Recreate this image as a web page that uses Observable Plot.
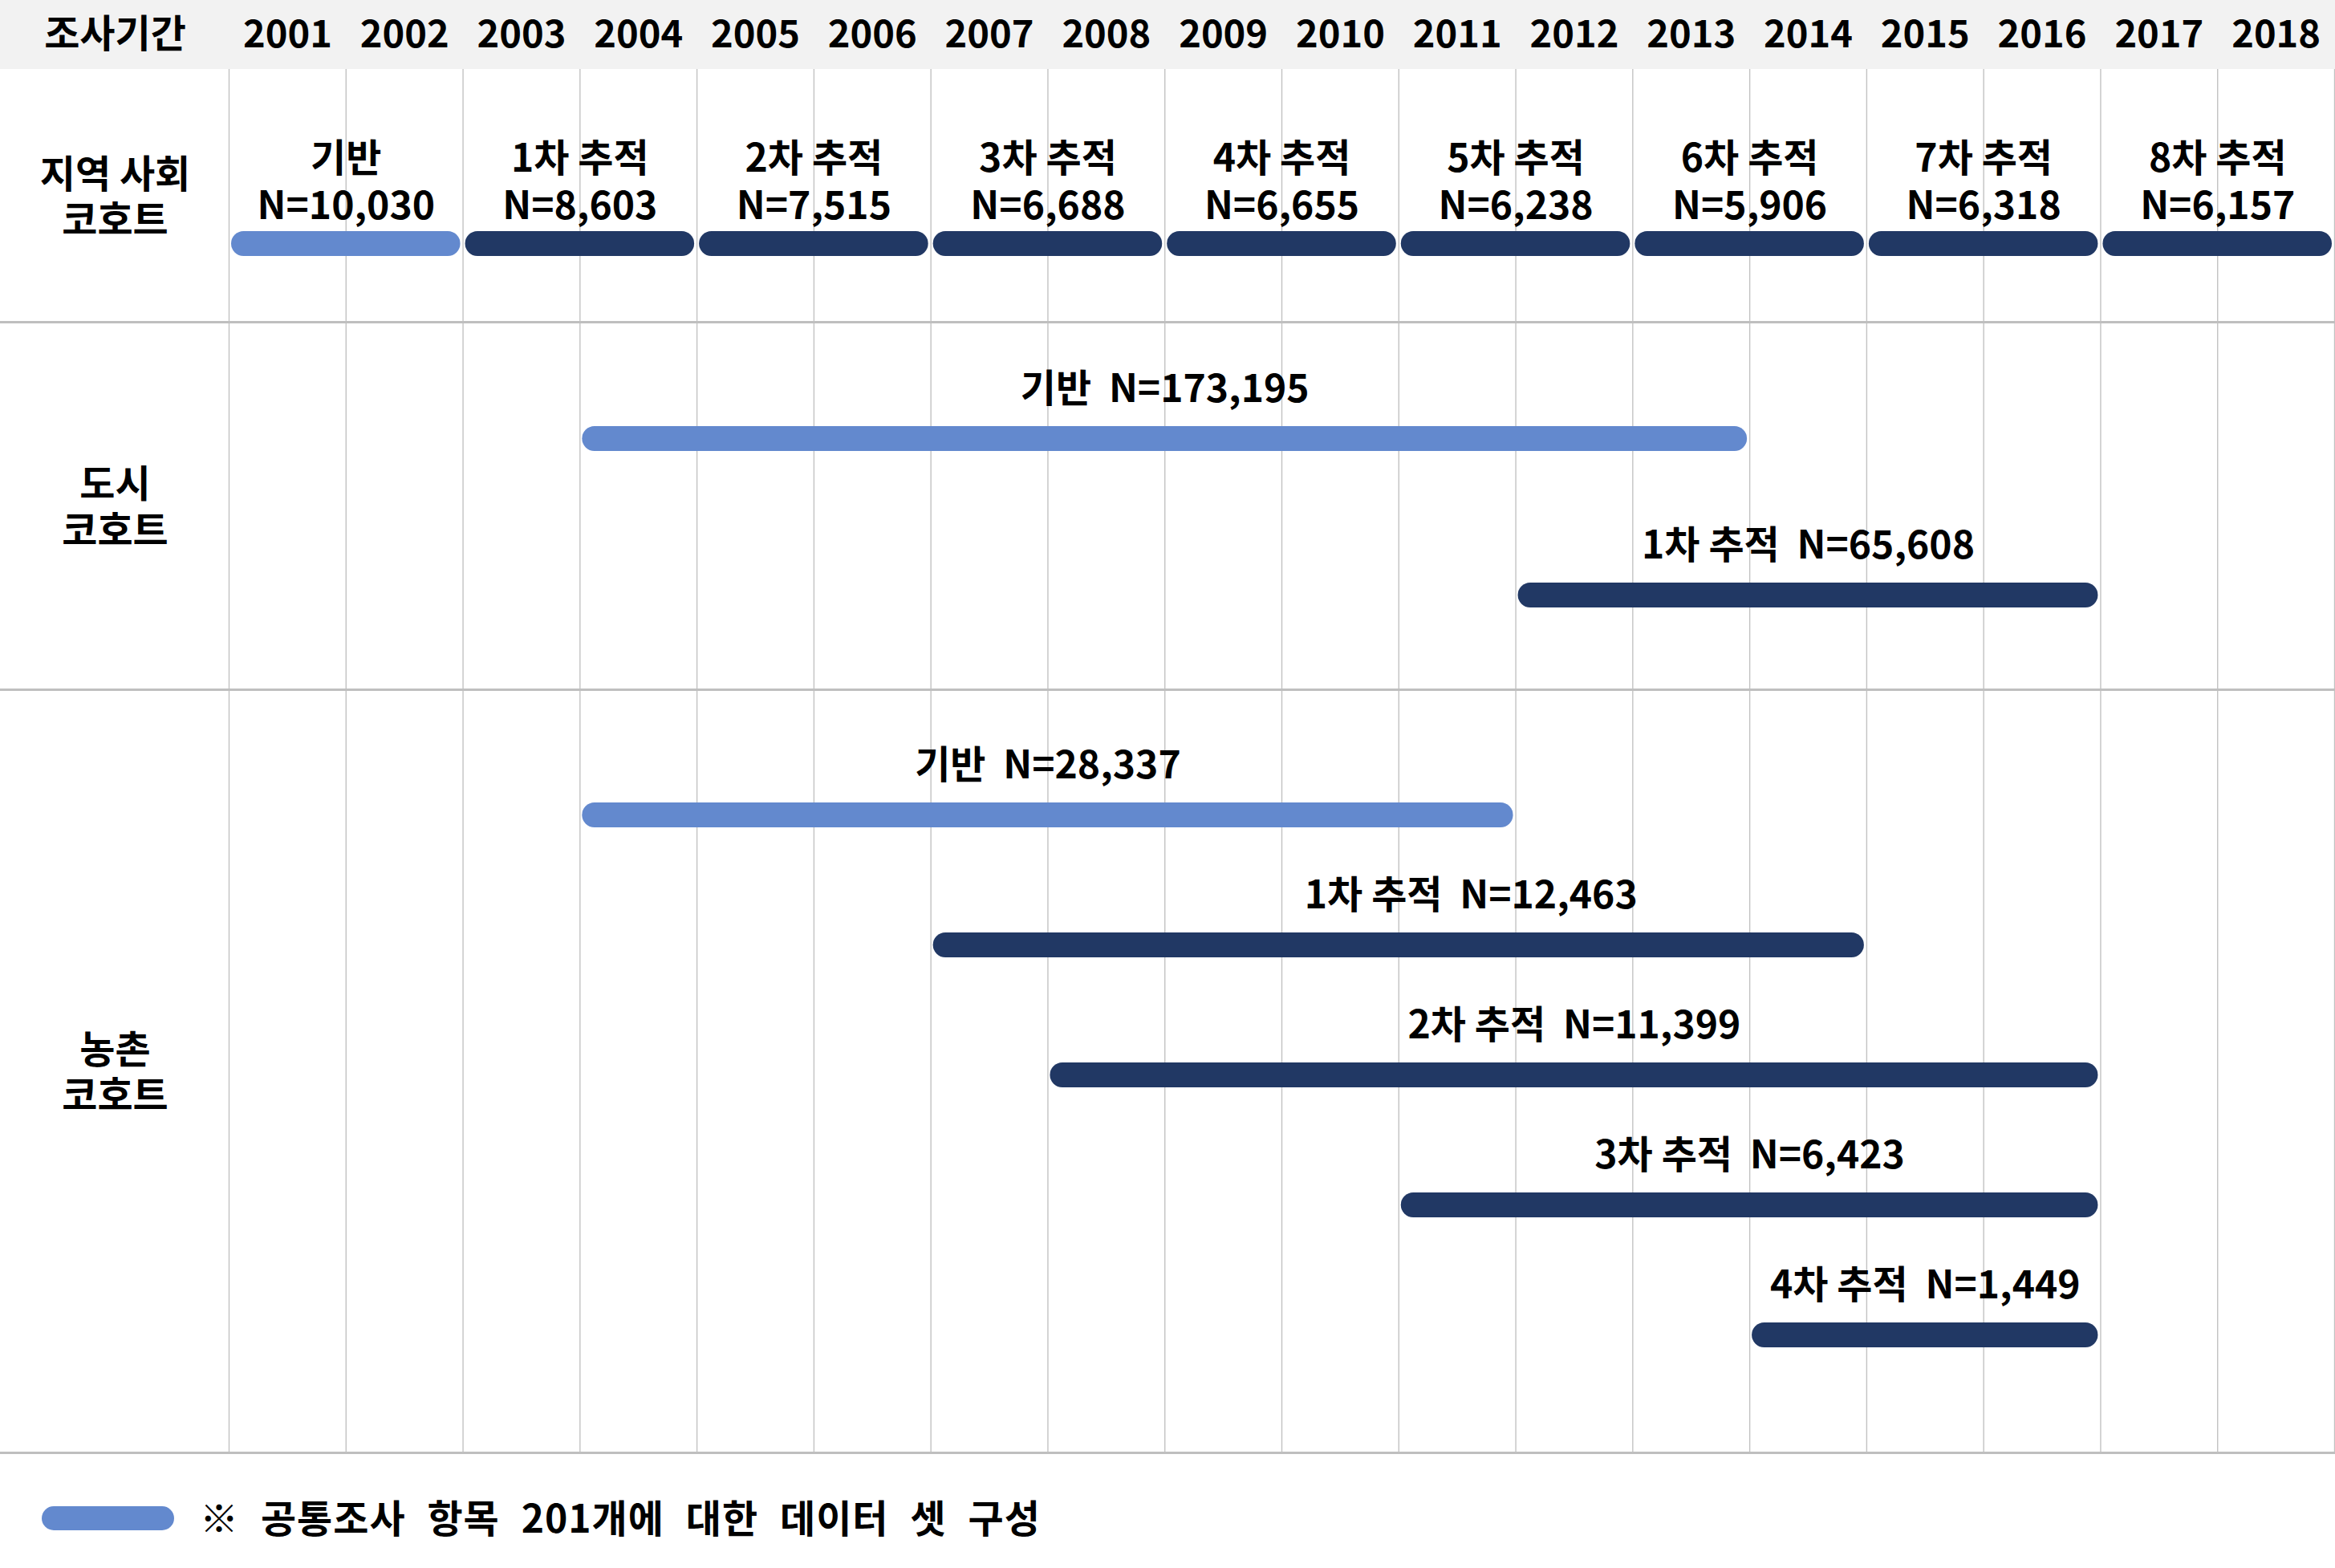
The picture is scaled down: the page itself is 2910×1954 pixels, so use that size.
<!DOCTYPE html>
<html>
<head>
<meta charset="utf-8">
<script src="https://cdn.jsdelivr.net/npm/d3@7"></script>
<script src="https://cdn.jsdelivr.net/npm/@observablehq/plot@0.6"></script>
<style>
html, body { margin: 0; padding: 0; background: #fff; }
body { width: 2910px; font-family: 'Noto Sans CJK KR', sans-serif; font-weight: 700; color: #000; }
#chart svg { display: block; }
#legend { height: 142px; position: relative; }
#legend .swatch { position: absolute; left: 52px; top: 65px; width: 165px; height: 30px; border-radius: 15px; }
#legend .label { position: absolute; left: 249px; top: 77px; transform: translateY(-50%); font-size: 48px; line-height: 1; white-space: pre; word-spacing: 15px; letter-spacing: 1px; }
</style>
</head>
<body>
<div id="chart"></div>
<div id="legend"><span class="swatch"></span><span class="label"></span></div>
<script>
// ---------- data ----------
const headerLabel = "조사기간";
const years = [2001, 2002, 2003, 2004, 2005, 2006, 2007, 2008, 2009, 2010, 2011, 2012, 2013, 2014, 2015, 2016, 2017, 2018];
const cohortLabels = ["지역 사회\n코호트", "도시\n코호트", "농촌\n코호트"];

// one entry per bar
const barCohort = [0, 0, 0, 0, 0, 0, 0, 0, 0, 1, 1, 2, 2, 2, 2, 2];
const barLane   = [0, 0, 0, 0, 0, 0, 0, 0, 0, 0, 1, 0, 1, 2, 3, 4];
const barWave   = ["기반", "1차 추적", "2차 추적", "3차 추적", "4차 추적", "5차 추적", "6차 추적", "7차 추적", "8차 추적",
                   "기반", "1차 추적",
                   "기반", "1차 추적", "2차 추적", "3차 추적", "4차 추적"];
const barN      = [10030, 8603, 7515, 6688, 6655, 6238, 5906, 6318, 6157,
                   173195, 65608,
                   28337, 12463, 11399, 6423, 1449];
const barStart  = [2001, 2003, 2005, 2007, 2009, 2011, 2013, 2015, 2017, 2004, 2012, 2004, 2007, 2008, 2011, 2014];
const barEnd    = [2002, 2004, 2006, 2008, 2010, 2012, 2014, 2016, 2018, 2013, 2016, 2011, 2014, 2016, 2016, 2016];

const kinds = ["기반", "추적"];
const legendText = "※ 공통조사 항목 201개에 대한 데이터 셋 구성";

// ---------- styling / layout ----------
const LIGHT = "#6389ce", DARK = "#213864";
const laneOffset = [0, 1, 3];           // first global lane of each cohort row
// piecewise vertical layout (lane index -> screen): header, row 1 lane, row 2 lanes, row 3 lanes
const yDomain = [-1.5, -1, 0, 0.5, 1, 2, 2.5, 3, 7, 7.5];
const yRange  = [0, 86, 303, 401, 546, 741, 859, 1015, 1663, 1810];
const rowBounds = [[-1, 0.5], [0.5, 2.5], [2.5, 7.5]];
const headerMid = -1.25;

const yLayout = d3.scaleLinear(yDomain, yRange);
const rowMid = rowBounds.map(([a, b]) => yLayout.invert((yLayout(a) + yLayout(b)) / 2));

const fmt = d3.format(",");
const bars = barStart.map((s, i) => ({
  cohort: barCohort[i],
  lane: laneOffset[barCohort[i]] + barLane[i],
  wave: barWave[i],
  n: barN[i],
  start: s,
  end: barEnd[i] + 1,
  kind: barWave[i] === "기반" ? kinds[0] : kinds[1]
}));
const gridYears = [...years, years[years.length - 1] + 1];

const topBars = bars.filter(d => d.cohort === 0);
const otherBars = bars.filter(d => d.cohort !== 0 && !(d.cohort === 2 && d.wave === "1차 추적"));
const shiftedBars = bars.filter(d => d.cohort === 2 && d.wave === "1차 추적");

const textOpts = {fontSize: 48, fill: "#000", lineAnchor: "middle", textAnchor: "middle"};
const labelOpts = {...textOpts, fontSize: 48, letterSpacing: 0.6};

const chart = Plot.plot({
  width: 2910,
  height: 1812,
  marginLeft: 0, marginRight: 0, marginTop: 0, marginBottom: 0,
  style: {fontFamily: "'Noto Sans CJK KR', sans-serif", fontWeight: "bold", background: "#fff", overflow: "visible"},
  x: {domain: [years[0], years[years.length - 1] + 1], range: [285, 2909], axis: null},
  y: {transform: yLayout, domain: [yRange[0], yRange[yRange.length - 1]], range: [yRange[0], yRange[yRange.length - 1]], axis: null},
  color: {domain: kinds, range: [LIGHT, DARK]},
  marks: [
    Plot.rect([{y1: yDomain[0], y2: yDomain[1]}], {y1: "y1", y2: "y2", fill: "#f2f2f2"}),
    Plot.ruleX(gridYears, {y1: () => -1, y2: () => 7.5, stroke: "#c2c2c2", strokeWidth: 1.4}),
    Plot.ruleY(rowBounds.map(d => d[1]), {stroke: "#bfbfbf", strokeWidth: 3}),
    // header
    Plot.text(years, {...textOpts, fontSize: 47, x: d => d + 0.5, y: () => headerMid, text: d => String(d)}),
    Plot.text([headerLabel], {...textOpts, frameAnchor: "left", dx: 143, y: () => headerMid, text: d => d}),
    // cohort labels
    Plot.text(cohortLabels, {...textOpts, frameAnchor: "left", dx: 143, y: (d, i) => rowMid[i], text: d => d, lineHeight: 1.2}),
    // bars
    Plot.ruleY(bars, {x1: "start", x2: "end", y: "lane", stroke: "kind", strokeWidth: 31, strokeLinecap: "round", insetLeft: 18.5, insetRight: 18.5}),
    // bar labels
    Plot.text(topBars, {...labelOpts, x: d => (d.start + d.end) / 2, y: "lane", text: d => `${d.wave}\nN=${fmt(d.n)}`, lineHeight: 1.22, dy: -79}),
    Plot.text(otherBars, {...labelOpts, x: d => (d.start + d.end) / 2, y: "lane", text: d => `${d.wave}  N=${fmt(d.n)}`, dy: -61}),
    Plot.text(shiftedBars, {...labelOpts, x: d => (d.start + d.end) / 2, y: "lane", text: d => `${d.wave}  N=${fmt(d.n)}`, dy: -61, dx: 90})
  ]
});
document.getElementById("chart").appendChild(chart);

document.querySelector("#legend .swatch").style.background = LIGHT;
document.querySelector("#legend .label").textContent = legendText;
</script>
</body>
</html>
